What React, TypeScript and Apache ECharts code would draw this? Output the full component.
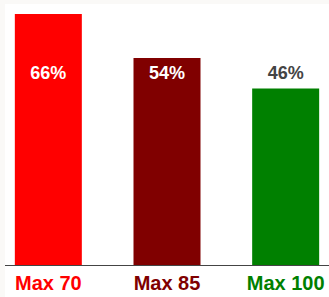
import React, { useEffect, useRef } from "react";
import * as echarts from "echarts";

const categories = ["Max 70", "Max 85", "Max 100"];
const values = [66, 54.4, 46.4];
const barColors = ["#ff0000", "#800000", "#008000"];
const labelLevel = 50.5;

export default function App() {
  const ref = useRef<HTMLDivElement>(null);
  useEffect(() => {
    document.body.style.margin = "0";
    const chart = echarts.init(ref.current!, null, { renderer: "svg" });
    const font = "'Liberation Sans', Arial, sans-serif";
    chart.setOption({
      animation: false,
      grid: { left: 0, right: 0, top: 10, bottom: 32, containLabel: false },
      xAxis: {
        type: "category",
        data: categories,
        axisTick: { show: false },
        axisLine: { lineStyle: { color: "#444", width: 1 } },
        axisLabel: {
          margin: 8,
          fontSize: 20,
          fontWeight: "bold",
          fontFamily: font,
          color: (_: any, i: number) => barColors[i],
        },
      },
      yAxis: { type: "value", min: 0, max: 66, show: false, splitLine: { show: false } },
      series: [
        {
          type: "bar",
          barWidth: 67,
          data: values.map((v, i) => ({ value: v, itemStyle: { color: barColors[i] } })),
        },
        {
          type: "scatter",
          symbolSize: 0,
          silent: true,
          itemStyle: { opacity: 1 },
          data: values.map((v) => ({
            value: labelLevel,
            label: {
              show: true,
              position: "inside",
              formatter: Math.round(v) + "%",
              color: v > labelLevel ? "#ffffff" : "#444444",
              fontSize: 18,
              fontWeight: "bold",
              fontFamily: font,
            },
          })),
        },
      ],
    });
    return () => chart.dispose();
  }, []);
  return (
    <div style={{ position: "relative", width: 329, height: 297, background: "#faf9f7" }}>
      <div
        style={{
          position: "absolute",
          left: 5,
          top: 4,
          width: 324,
          height: 293,
          background: "#ffffff",
          overflow: "hidden",
        }}
      >
        <div
          ref={ref}
          style={{ position: "absolute", left: -16.25, top: 0, width: 355.5, height: 293 }}
        />
      </div>
    </div>
  );
}
